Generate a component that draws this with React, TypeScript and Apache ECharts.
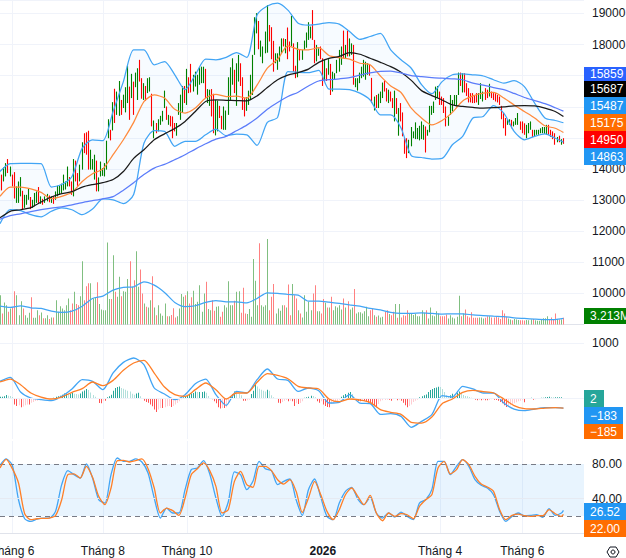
import React, { useEffect, useRef } from "react";
import * as echarts from "echarts";

const AXIS_SLOTS = 285;
const tickLabels: Record<number, string> = { 6: "Tháng 6", 50: "Tháng 8", 91: "Tháng 10", 157: "2026", 214: "Tháng 4", 254: "Tháng 6" };

const highs = [13980,13820,14050,14190,14320,14080,13820,13900,13440,13600,13740,13300,13170,13170,13360,13100,13010,13230,13280,13420,13120,13040,13120,13200,13150,13120,13120,13280,13460,13460,13530,13820,13600,14080,13740,13600,14320,14270,13870,14140,14860,15150,15180,15230,14620,14320,14460,14270,13730,14240,14030,14190,14910,15600,15260,16150,16580,16490,16830,16220,16390,16630,17320,16650,17060,16810,17100,17240,17510,16920,16760,16670,16920,16950,16420,15560,15480,15600,15710,15870,16520,16010,15740,15710,15690,15480,15480,16120,16390,16670,16670,17220,16950,17380,17030,17130,17030,17270,
17290,17290,17220,16570,16550,16570,16420,16220,16200,16030,15710,16010,15880,16950,17270,17560,17190,17400,17670,17400,16950,16280,16310,16520,17030,17670,18880,19010,18760,18130,17940,18420,19270,18630,18560,18120,17720,17720,17940,18200,18200,18180,18550,18100,18920,18040,17320,18080,17830,17830,18130,18390,18720,18580,19110,18150,17990,17880,17940,17560,17510,17240,17530,17380,17130,17080,17510,17830,17940,18450,17990,18450,18200,18040,17990,16920,16920,17100,17290,17510,17450,17400,17350,16930,16330,16380,16420,16490,16780,16840,16600,16550,16490,16280,16520,16280,15960,
16120,15820,15010,14990,14940,15350,15210,15500,15320,15390,15530,15420,15370,15260,16030,16030,16170,16650,16670,16490,16330,16280,16010,15690,16380,16220,16380,16380,17100,17100,17080,17080,16760,16600,16440,16440,16380,16440,16440,16760,16490,16600,16550,16740,16490,16440,16440,16380,16330,16030,15800,15640,15600,15600,15580,15530,15640,15800,15530,15530,15470,15420,15480,15530,15260,15260,15260,15260,15310,15350,15350,15420,15420,15260,15210,15150,15030,15070,14960,14990];
const lows = [13280,13310,13600,13760,13870,13760,13440,13050,12910,12910,13120,12710,12750,12850,13010,12710,12750,12800,12910,12910,12880,12850,12910,12960,12930,12910,12880,13010,13120,13170,13230,13310,13340,13440,13440,13170,13120,13600,13460,13600,13980,14510,14460,13980,13980,13980,13660,13280,13280,13760,13780,13760,13980,14990,14920,15240,15480,15740,15710,15740,15960,15820,16120,15580,16280,15740,16630,16220,16810,16260,16220,16190,16440,16490,15370,14990,15150,15210,15420,15530,15960,15580,15420,15370,14990,15210,15070,15740,15580,15800,16120,16060,16440,16460,16490,16650,16390,16710,
16760,16760,16280,16120,16030,15690,15150,15080,15210,15640,15280,15260,15260,15740,16220,16710,16440,16030,16810,16670,15900,15690,15870,16060,16220,16380,17670,18360,17850,17610,17400,17720,17740,18100,17530,17130,17400,17190,17450,17720,17940,17720,17530,17780,17940,17130,16920,16950,17490,17510,17830,17900,18150,18200,18150,17400,17460,17640,17530,16670,16810,16830,17030,16380,16490,16870,17080,17130,17350,17560,17560,17620,17620,17670,16710,16630,16520,16760,16920,16970,16870,17030,17000,16120,15880,15960,15960,16120,16280,16490,16170,16120,16170,15960,15530,15770,15070,
15530,15050,14490,14350,14510,14730,14990,14960,14960,14920,14960,14940,14530,15070,15180,15740,15800,16220,16280,16060,16060,15800,15370,15390,15740,15850,16060,16010,16380,16670,16460,16460,16350,16140,16140,16120,16120,16140,16060,16250,16170,16220,16280,16330,16280,16220,16170,16140,16060,15600,15310,15070,15420,15420,15310,15370,15420,15420,15260,15150,15100,14990,15150,15260,15030,15030,15100,15100,15150,15150,15130,15100,15100,15030,14960,14780,14860,14860,14780,14810];
const barDirection =
  "grggrgrrgg" + "grgggrgggr" + "grggrgrggg" + "ggggrrgrrg" + "grrrgggrgg" + "ggggrgrggr" + "gggrgrggrr" + "grggrgrggg" + "grgrrrgggg" + "rgrrgggggg" +
  "rggrrggrrg" + "ggggrggrrr" + "ggggggrggg" + "grrrggggrg" + "rrgrrgrggg" + "ggrrggrrgr" + "grgggggrgr" + "ggrggggggg" + "rrgrgggrrg" + "rrgrgrrrrg" +
  "gggggggrgg" + "ggggrrrrgg" + "ggggrgrrrr" + "rrrgggrrgr" + "rrrrrrrggr" + "gggrrrgggr" + "gggggggrrr" + "rgrgr";
const up = barDirection.split("").map((c) => c === "g");

const volumeM = [14.1,5.3,10.6,9.3,6.1,7.7,8.2,16,14.1,4.5,11.2,7.7,4.5,3.2,5.6,13.1,3.2,3.2,6.9,4.5,5.8,3,3,4.5,2.6,3.4,3.4,11.7,6.1,8.8,7.7,6.9,9.3,12.5,6.9,10.1,15.7,9.8,9.3,13.6,30.4,11.7,18.4,19.8,19.8,12.5,13,20.3,9.8,7.2,6.9,6.9,39.4,12.2,12.2,33.3,15.7,13.3,22.9,13.6,16,15.7,21.8,30.4,18.1,21.3,35.2,18.1,26.4,14.9,10.1,8.5,8.2,11.7,23.2,8.2,4.5,9.3,5.3,4.2,10.1,4,4,4.6,7.8,3.4,4,7.7,14.6,13.3,14.1,16,10.1,13.1,16.2,9.8,10.9,18.9,6.1,14.9,20.5,7.4,6.9,11.7,6.6,8.5,8.8,3.7,6.1,9.3,8.2,20.8,9.3,9.3,11.4,15.7,16,5.6,17.6,5.3,5,7.4,3.7,31.4,21,9.3,39,9.3,8.5,9.3,41,6.9,13.3,19.4,5.3,7.7,6.6,9.3,9.3,8.2,19.2,4.5,19.4,14.1,12.5,6.9,5.3,3.4,14.1,6.1,10.9,6.9,14.9,18.9,6.4,6.4,
5.3,12.2,10.4,8.2,8.2,13.3,6.9,8.8,8.2,9.3,7.2,12.5,8.2,11.2,7.2,8.2,17,5.3,5.9,5.9,5.3,6.4,8.5,4,6.9,7.4,4.5,3.7,4.3,3.4,3.7,6.1,6.9,5,4.5,6.1,9.8,3.2,9.8,3.4,4.5,4.2,6.9,5,5,4.6,5,4,4,6.9,5.6,6.9,2.9,8.2,4.3,4,6.4,5.3,4,4,4,4.8,2.9,4.5,3.4,2.9,3.7,13.8,4,5.3,7.2,4,3.4,5.9,3.2,3.2,3.2,3.4,3.4,2.9,3.2,4,4,3.4,3.4,3.7,3.4,2.7,6.9,5.3,3.7,2.9,2.4,2.1,2.6,2.4,2.2,2.1,2.1,1.9,2.2,2.1,2.4,2.6,2.1,1.8,1.8,2.7,3,3,4,2.4,3.4,2.4,5.3,2.7,2.4,2.4,3.213];

const bbUpper = [13920,14170,14180,14180,14170,13420,13500,13760,14670,14940,14910,15850,16810,17830,17830,17350,17450,17030,16550,17030,17530,17510,17590,17740,17590,18950,19240,19330,19110,18690,18630,18660,18710,18660,18420,18170,18260,18360,17830,17510,17240,16710,16420,16810,17030,17060,17030,16990,16870,16760,16840,16650,16120,15640,15560,15487];
const bbLower = [12240,12690,12660,12530,12460,12640,12750,12690,12530,12710,13040,13010,12890,13180,14830,15230,15210,14730,14890,14890,15100,15280,15070,15120,15100,14760,15500,15660,17130,17110,17100,17170,16570,16570,16550,16440,16220,15740,15740,15320,14430,14370,14320,14340,14780,15050,15640,15690,16040,15800,15210,14940,15050,15130,14990,14863];
const bbBasis = [13120,13420,13420,13360,13250,13050,13120,13250,13600,13850,14000,14460,14940,15500,16170,16380,16280,15920,15800,15960,16280,16400,16330,16340,16280,16700,17240,17530,17960,17850,17830,17900,17650,17580,17530,17400,17350,16990,16670,16460,15960,15640,15420,15560,15820,16190,16350,16440,16460,16280,16060,15850,15640,15390,15310,15175];
const maBlack = [12430,12640,12690,12760,12940,13100,13210,13270,13420,13500,13560,13660,13920,14340,14620,14940,15130,15300,15530,15850,16170,16220,16210,16200,16190,16350,16620,16870,17020,17100,17210,17430,17560,17620,17740,17690,17560,17430,17290,17110,16850,16520,16360,16220,16060,16010,15980,15960,15970,16000,16030,16040,16030,15960,15850,15687];
const maBlue = [12390,12500,12560,12630,12690,12740,12780,12850,12920,12980,13040,13110,13320,13560,13820,14030,14150,14300,14460,14640,14810,14960,15050,15230,15410,15640,15920,16140,16330,16470,16670,16830,16870,16900,16940,17020,17090,17140,17150,17090,17000,16970,16940,16920,16900,16870,16760,16700,16620,16550,16430,16300,16200,16100,15970,15859];
const volumeMa = [8.8,8.2,9,8,7.7,6.4,5.8,6.4,8.8,12.5,13.6,16.5,17.8,18.1,20.5,18.9,15.4,10.6,8.6,9,10.6,11.5,10.9,10.9,10.4,12.5,15.2,14.9,14.4,14.1,11.2,11.2,10.7,10.1,9.4,8.8,7.7,7,5.8,5.3,5.3,5.6,5.3,5,5.1,5.1,4.6,4.3,4,3.8,3.2,2.9,2.6,2.4,2.4,2.9];
const macdLine = [303,376,109,0,-30,-48,30,164,333,303,152,455,648,727,606,182,73,-30,61,261,345,61,-133,121,91,333,527,345,321,121,182,133,-91,-79,61,-91,-103,-297,-285,-333,-533,-424,-303,42,18,212,164,91,91,-91,-200,-230,-200,-176,-176,-183];
const macdSignal = [291,345,242,91,18,-18,18,103,170,291,224,321,503,636,685,454,200,61,30,152,273,152,-18,91,91,285,442,412,351,212,182,164,-18,-67,-18,-36,-79,-212,-261,-297,-442,-455,-345,-103,-18,103,139,115,91,-18,-139,-194,-200,-182,-176,-185];
const macdHist = [24,24,30,54,42,36,18,-120,-144,-132,-168,-156,-132,-120,-120,-84,-72,-54,-48,-36,-30,-18,-18,-12,-12,-6,6,24,30,42,60,84,84,78,78,96,78,72,66,84,120,138,162,144,102,54,24,-12,-90,-96,-48,-48,12,30,60,132,180,198,210,180,168,150,132,120,78,60,84,96,30,-18,-48,-72,-84,-120,-150,-210,-252,-210,-180,-180,-168,-150,-144,-162,-144,-120,-90,-60,-24,12,30,48,72,84,90,120,108,108,108,120,96,36,0,-24,-60,-96,-168,-192,-180,-180,-168,-90,30,72,120,108,72,48,-48,-48,-42,-30,72,132,240,210,168,150,132,120,150,132,48,12,-18,-84,-96,-72,-48,-36,-60,-48,-60,-144,-96,-108,-90,-60,6,12,24,42,36,12,-60,-84,-60,-120,-144,-162,-168,-108,-96,-72,-48,-30,24,48,72,96,108,72,-12,-36,-54,-60,-48,-48,-72,-84,-102,-120,-150,-168,-108,-60,-42,-36,-30,-30,-48,-24,-18,-42,-30,-48,-84,-132,-168,-144,-120,-72,-48,-30,12,30,48,66,108,144,162,180,192,204,198,162,108,48,36,48,78,66,96,120,90,54,36,30,18,6,-12,-30,-42,-36,-42,-36,-42,-42,-36,-24,-30,-36,-48,-72,-96,-132,-162,-156,-132,-114,-96,-78,-60,-48,-42,-78,-18,-6,6,-30,-24,-6,-12,6,6,12,18,24,18,12,12,12,12,12,2];
const stochK = [78.5,85.8,78.5,38.8,16.9,13.8,16.5,17.7,17.7,25.4,56.2,72.3,67.7,63.8,80,63.8,38.8,35,67.7,86.9,83.1,83.1,85.8,82.3,69.6,40.8,17.7,29.2,23.5,23.5,50.4,73.5,75.4,83.8,68.5,40.8,19.6,36.2,70.8,67.7,50.4,60,83.1,74.6,72.3,56.2,60,62.7,38.8,20.8,50.4,62.7,41.5,19.6,15.8,35,48.5,53.1,39.6,33.1,41.5,23.5,17.7,23.5,18.8,24.6,19.6,15.8,35,38.8,50.4,83.1,83.1,67.7,77.3,85,77.3,61.9,55.4,52.3,44.6,25.4,13.8,19.6,23.5,20.4,20.8,21.5,18.5,28.5,20.8,23.5,26.52];
const stochD = [75.4,85.4,74.6,58.1,22.7,15.8,16.9,17.3,17.7,20.4,38.8,67.7,68.5,63.8,77.3,64.6,42.7,33.1,52.3,83.8,84.2,82.3,83.8,85.8,74.6,52.3,23.5,29.2,26.2,20.8,40.8,67.7,74.6,81.2,72.3,54.2,23.5,27.3,60,71.5,56.2,53.1,77.3,77.3,72.3,61.9,56.9,61.9,48.5,24.2,40.8,60,44.6,25.4,15.8,27.3,44.6,52.3,42.7,33.1,43.8,23.5,14.6,23.5,19.6,22.7,21.5,16.9,31.2,38.8,44.6,75.4,83.1,68.5,73.5,85,79.2,65.8,56.9,53.5,48.5,27.3,15.8,20.8,22.3,20.4,19.6,20.4,20.4,27.3,22.7,19.6,22];

const LAST = highs.length - 1;
const knots = (vals: number[], step: number) =>
  vals.map((v, k) => [Math.min(k * step, LAST), v]);

const GREEN = "#008000";
const RED = "#ff0000";
const GRID = "#f0f3fa";
const SEP = "#e0e3eb";
const TXT = "#131722";
const FONT = "'Liberation Sans', Arial, sans-serif";
const FS = 12;

function App() {
  const ref = useRef<HTMLDivElement>(null);
  useEffect(() => {
    const chart = echarts.init(ref.current!, null, { renderer: "svg" });
    const candle = highs.map((h, i) => {
      const l = lows[i];
      return up[i] ? [l, h, l, h] : [h, l, l, h];
    });
    const cats = Array.from({ length: AXIS_SLOTS }, (_, i) => tickLabels[i] || String(i));
    const isTick = (i: number) => tickLabels[i] !== undefined;
    const xBase = (gridIndex: number, showLabel: boolean) => ({
      type: "category" as const,
      gridIndex,
      data: cats,
      boundaryGap: false,
      axisLine: { show: true, lineStyle: { color: SEP, width: 1 } },
      axisTick: { show: false },
      splitLine: { show: true, interval: isTick, lineStyle: { color: GRID } },
      axisLabel: {
        show: showLabel,
        interval: isTick,
        color: TXT,
        fontSize: FS,
        fontFamily: FONT,
        margin: 11,
        formatter: (v: string) => (v === "2026" ? "{b|2026}" : v),
        rich: { b: { fontWeight: "bold", fontSize: FS, color: TXT, fontFamily: FONT } },
      },
    });
    const lineCommon = { type: "line" as const, showSymbol: false, symbol: "none", smooth: 0.25, silent: true };
    const thinBars = (
      xAxisIndex: number,
      yAxisIndex: number,
      vals: number[],
      colorOf: (v: number, i: number) => string
    ) => ({
      type: "custom" as const,
      xAxisIndex,
      yAxisIndex,
      silent: true,
      z: 2,
      encode: { x: 0, y: 1 },
      data: vals.map((v, i) => [i, v]),
      renderItem: (_: unknown, api: any) => {
        const i = api.value(0);
        const v = api.value(1);
        const top = api.coord([i, v]);
        const base = api.coord([i, 0]);
        return {
          type: "rect",
          shape: {
            x: Math.round(top[0]),
            y: Math.min(top[1], base[1]),
            width: 1,
            height: Math.abs(base[1] - top[1]),
          },
          style: { fill: colorOf(v, i) },
        };
      },
    });
    const box = (x: number, y: number, w: number, h: number, fill: string, text: string) => ({
      type: "group",
      children: [
        { type: "rect", shape: { x, y, width: w, height: h }, style: { fill }, z: 50 },
        { type: "text", x: x + 6, y: y + h / 2, z: 51, style: { text, fill: "#fff", font: `${FS}px ${FONT}`, verticalAlign: "middle", textVerticalAlign: "middle" } },
      ],
    });
    chart.setOption({
      animation: false,
      backgroundColor: "#fff",
      grid: [
        { left: 0, top: 0, width: 584, height: 324.5, outerBoundsMode: "none" },
        { left: 0, top: 326, width: 584, height: 113, outerBoundsMode: "none" },
        { left: 0, top: 441, width: 584, height: 93, outerBoundsMode: "none" },
      ],
      xAxis: [xBase(0, false), xBase(1, false), xBase(2, true)],
      yAxis: [
        {
          type: "value", gridIndex: 0, position: "right", min: 9000, max: 19434, interval: 1000,
          axisLine: { show: false }, axisTick: { show: false },
          splitLine: { show: true, lineStyle: { color: GRID } },
          axisLabel: {
            color: TXT, fontSize: FS, fontFamily: FONT, margin: 8,
            formatter: (v: number) =>
              v % 1000 === 0 && v > 9000 && (v < 15000 || v > 17000) ? String(v) : "",
          },
        },
        { type: "value", gridIndex: 0, min: 0, max: 155.76, show: false },
        {
          type: "value", gridIndex: 1, position: "right", min: -745, max: 1309,
          axisLine: { show: false }, axisTick: { show: false }, splitLine: { show: false },
          axisLabel: { color: TXT, fontSize: FS, fontFamily: FONT, margin: 8, customValues: [1000], formatter: (v: number) => String(v) },
        },
        {
          type: "value", gridIndex: 2, position: "right", min: -0.7, max: 106.5,
          axisLine: { show: false }, axisTick: { show: false }, splitLine: { show: false },
          axisLabel: { color: TXT, fontSize: FS, fontFamily: FONT, margin: 8, customValues: [80, 40], formatter: (v: number) => v.toFixed(2) },
        },
      ],
      series: [
        thinBars(0, 1, volumeM, (_v, i) => (up[i] ? "#80bf80" : "#ff8080")),
        { ...lineCommon, name: "Volume MA", xAxisIndex: 0, yAxisIndex: 1, z: 3, lineStyle: { color: "#42a5f5", width: 1.25 }, data: knots(volumeMa, 5) },
        { ...lineCommon, name: "lower-base", xAxisIndex: 0, yAxisIndex: 0, stack: "bb", z: 2, lineStyle: { width: 0 }, data: knots(bbLower, 5) },
        { ...lineCommon, name: "band", xAxisIndex: 0, yAxisIndex: 0, stack: "bb", z: 2, lineStyle: { width: 0 }, areaStyle: { color: "rgba(33,150,243,0.05)", origin: "auto" }, data: knots(bbUpper.map((v, k) => v - bbLower[k]), 5) },
        {
          type: "candlestick", xAxisIndex: 0, yAxisIndex: 0, barWidth: 0.2, z: 3, silent: true,
          itemStyle: { color: GREEN, color0: RED, borderColor: GREEN, borderColor0: RED, borderWidth: 1.1 },
          data: candle,
        },
        { ...lineCommon, name: "BB upper", xAxisIndex: 0, yAxisIndex: 0, z: 4, lineStyle: { color: "#42a5f5", width: 1.25 }, data: knots(bbUpper, 5) },
        { ...lineCommon, name: "BB lower", xAxisIndex: 0, yAxisIndex: 0, z: 4, lineStyle: { color: "#42a5f5", width: 1.25 }, data: knots(bbLower, 5) },
        { ...lineCommon, name: "BB basis", xAxisIndex: 0, yAxisIndex: 0, z: 4, lineStyle: { color: "#ff8a3c", width: 1.25 }, data: knots(bbBasis, 5) },
        { ...lineCommon, name: "MA black", xAxisIndex: 0, yAxisIndex: 0, z: 4, lineStyle: { color: "#1a1a1a", width: 1.25 }, data: knots(maBlack, 5) },
        { ...lineCommon, name: "MA blue", xAxisIndex: 0, yAxisIndex: 0, z: 4, lineStyle: { color: "#5b7cfa", width: 1.25 }, data: knots(maBlue, 5) },

        thinBars(1, 2, macdHist, (v, i) => {
          const prev = i > 0 ? macdHist[i - 1] : v;
          return v >= 0 ? (v >= prev ? "#26a69a" : "#b2dfdb") : v <= prev ? "#ff5252" : "#ffcdd2";
        }),
        {
          ...lineCommon, name: "MACD", xAxisIndex: 1, yAxisIndex: 2, z: 4, lineStyle: { color: "#42a5f5", width: 1.3 }, data: knots(macdLine, 5),
          markLine: {
            silent: true, symbol: "none", label: { show: false },
            lineStyle: { color: GRID, width: 1, type: "solid" },
            data: [{ yAxis: 0 }, { yAxis: 1000 }],
          },
        },
        { ...lineCommon, name: "Signal", xAxisIndex: 1, yAxisIndex: 2, z: 5, lineStyle: { color: "#ff7f27", width: 1.3 }, data: knots(macdSignal, 5) },

        {
          ...lineCommon, name: "%K", xAxisIndex: 2, yAxisIndex: 3, z: 4, lineStyle: { color: "#42a5f5", width: 1.3 }, data: knots(stochK, 3),
          markArea: {
            silent: true, itemStyle: { color: "rgba(33,150,243,0.1)" },
            data: [[{ yAxis: 80, x: 0 }, { yAxis: 20, x: 584 }]],
          },
          markLine: {
            silent: true, symbol: "none", label: { show: false },
            lineStyle: { color: "#787b86", width: 1, type: [5, 4] },
            data: [{ yAxis: 80 }, { yAxis: 20 }],
          },
        },
        {
          ...lineCommon, name: "%D", xAxisIndex: 2, yAxisIndex: 3, z: 5, lineStyle: { color: "#ff7f27", width: 1.3 }, data: knots(stochD, 3),
          markLine: {
            silent: true, symbol: "none", label: { show: false },
            lineStyle: { color: "#e6eaf2", width: 1, type: "solid" },
            data: [{ yAxis: 40 }],
          },
        },
      ],
      graphic: [
        box(584, 67, 42, 14, "#2962ff", "15859"),
        box(584, 81, 42, 16, "#000000", "15687"),
        box(584, 97, 42, 17, "#2196f3", "15487"),
        box(584, 114, 42, 17, "#ff6d00", "15175"),
        box(584, 131, 42, 17, "#ff0000", "14950"),
        box(584, 148, 42, 17, "#2196f3", "14863"),
        box(584, 308, 42, 16, "#008000", "3.213M"),
        box(584, 390, 20, 17, "#26a69a", "2"),
        box(584, 407, 39, 17, "#2196f3", "\u2212183"),
        box(584, 424, 39, 15, "#ff6d00", "\u2212185"),
        box(584, 503, 42, 17, "#2196f3", "26.52"),
        box(584, 520, 42, 17, "#ff6d00", "22.00"),
        {
          type: "polygon", z: 60,
          shape: { points: [[607, 552], [610, 547], [616, 547], [619, 552], [616, 557], [610, 557]] },
          style: { fill: "none", stroke: TXT, lineWidth: 1 },
        },
        { type: "circle", z: 60, shape: { cx: 613, cy: 552, r: 2 }, style: { fill: "none", stroke: TXT, lineWidth: 1 } },
      ],
    });
    return () => chart.dispose();
  }, []);
  return <div ref={ref} style={{ position: "fixed", left: 0, top: 0, width: 626, height: 558 }} />;
}

export default App;
